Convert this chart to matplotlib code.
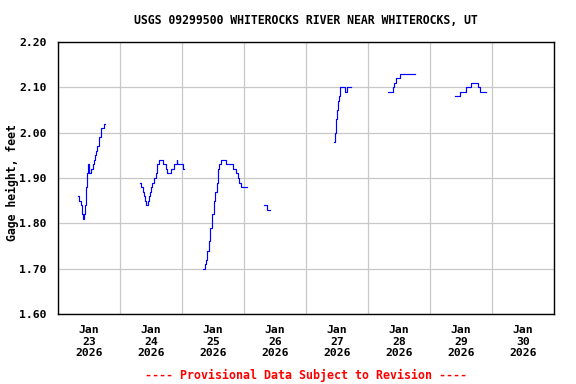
import numpy as np
import pandas as pd
import matplotlib
matplotlib.use("Agg")
import matplotlib.pyplot as plt
import matplotlib.dates as mdates
from matplotlib.ticker import FixedLocator, FormatStrFormatter

title = "USGS 09299500 WHITEROCKS RIVER NEAR WHITEROCKS, UT"
ylabel = "Gage height, feet"
footer = "---- Provisional Data Subject to Revision ----"

# step readings (time, gage height); NaN marks a gap in record
times = [
    # Jan 23
    "2026-01-23 07:45", "2026-01-23 08:15", "2026-01-23 08:45", "2026-01-23 09:15",
    "2026-01-23 09:30", "2026-01-23 10:15", "2026-01-23 10:30", "2026-01-23 10:45",
    "2026-01-23 11:00", "2026-01-23 11:15", "2026-01-23 11:30", "2026-01-23 11:45",
    "2026-01-23 12:00", "2026-01-23 12:45", "2026-01-23 13:30", "2026-01-23 14:00",
    "2026-01-23 14:30", "2026-01-23 14:45", "2026-01-23 15:15", "2026-01-23 15:45",
    "2026-01-23 16:00", "2026-01-23 16:30", "2026-01-23 16:45", "2026-01-23 17:45",
    "2026-01-23 18:00",
    # Jan 24
    "2026-01-24 07:45", "2026-01-24 08:15", "2026-01-24 08:45", "2026-01-24 09:15",
    "2026-01-24 09:45", "2026-01-24 10:15", "2026-01-24 11:00", "2026-01-24 11:15",
    "2026-01-24 11:45", "2026-01-24 12:00", "2026-01-24 12:30", "2026-01-24 13:15",
    "2026-01-24 14:00", "2026-01-24 14:15", "2026-01-24 14:30", "2026-01-24 15:00",
    "2026-01-24 16:45", "2026-01-24 17:45", "2026-01-24 18:15", "2026-01-24 19:45",
    "2026-01-24 21:00", "2026-01-24 22:00", "2026-01-24 22:15", "2026-01-25 00:15",
    "2026-01-25 00:30", "2026-01-25 00:45",
    # Jan 25
    "2026-01-25 08:00", "2026-01-25 08:45", "2026-01-25 09:15", "2026-01-25 09:45",
    "2026-01-25 10:30", "2026-01-25 11:00", "2026-01-25 11:45", "2026-01-25 12:15",
    "2026-01-25 12:45", "2026-01-25 13:30", "2026-01-25 14:00", "2026-01-25 14:30",
    "2026-01-25 15:00", "2026-01-25 17:00", "2026-01-25 19:45", "2026-01-25 21:00",
    "2026-01-25 21:30", "2026-01-25 22:15", "2026-01-25 23:00", "2026-01-26 00:45",
    "2026-01-26 01:00",
    # Jan 26
    "2026-01-26 07:45", "2026-01-26 08:45", "2026-01-26 10:00", "2026-01-26 10:15",
    # Jan 27
    "2026-01-27 10:45", "2026-01-27 11:15", "2026-01-27 11:45", "2026-01-27 12:00",
    "2026-01-27 12:30", "2026-01-27 12:45", "2026-01-27 13:00", "2026-01-27 15:00",
    "2026-01-27 15:45", "2026-01-27 17:00", "2026-01-27 17:15",
    # Jan 28
    "2026-01-28 07:45", "2026-01-28 09:30", "2026-01-28 10:00", "2026-01-28 10:45",
    "2026-01-28 11:30", "2026-01-28 12:15", "2026-01-28 17:45", "2026-01-28 18:00",
    # Jan 29
    "2026-01-29 09:30", "2026-01-29 11:30", "2026-01-29 13:45", "2026-01-29 16:00",
    "2026-01-29 18:30", "2026-01-29 19:15", "2026-01-29 21:45",
]
heights = [
    # Jan 23
    1.86, 1.85, 1.84, 1.82,
    1.81, 1.82, 1.84, 1.86,
    1.88, 1.91, 1.92, 1.93,
    1.91, 1.92, 1.93, 1.94,
    1.95, 1.96, 1.97, 1.98,
    1.99, 2.00, 2.01, 2.02,
    np.nan,
    # Jan 24
    1.89, 1.88, 1.87, 1.86,
    1.85, 1.84, 1.85, 1.86,
    1.87, 1.88, 1.89, 1.90,
    1.91, 1.92, 1.93, 1.94,
    1.93, 1.92, 1.91, 1.92,
    1.93, 1.94, 1.93, 1.92,
    1.92, np.nan,
    # Jan 25
    1.70, 1.71, 1.72, 1.74,
    1.76, 1.79, 1.82, 1.85,
    1.87, 1.89, 1.92, 1.93,
    1.94, 1.93, 1.92, 1.91,
    1.90, 1.89, 1.88, 1.88,
    np.nan,
    # Jan 26
    1.84, 1.83, 1.83, np.nan,
    # Jan 27
    1.98, 2.00, 2.03, 2.05,
    2.07, 2.08, 2.10, 2.09,
    2.10, 2.10, np.nan,
    # Jan 28
    2.09, 2.10, 2.11, 2.12,
    2.12, 2.13, 2.13, np.nan,
    # Jan 29
    2.08, 2.09, 2.10, 2.11,
    2.10, 2.09, 2.09,
]

day_labels = ["Jan\n23\n2026", "Jan\n24\n2026", "Jan\n25\n2026", "Jan\n26\n2026",
              "Jan\n27\n2026", "Jan\n28\n2026", "Jan\n29\n2026", "Jan\n30\n2026"]
y_ticks = [1.60, 1.70, 1.80, 1.90, 2.00, 2.10, 2.20]

font = "DejaVu Sans Mono"
t = pd.to_datetime(times)

fig = plt.figure(figsize=(5.76, 3.84), dpi=100)
ax = fig.add_axes([58 / 576, 1 - 314 / 384, (554 - 58) / 576, (314 - 42) / 384])

ax.plot(t, heights, color="#0000ff", lw=0.85, drawstyle="steps-post")

start = pd.Timestamp("2026-01-23 00:00")
end = pd.Timestamp("2026-01-31 00:00")
ax.set_xlim(start, end)
ax.set_ylim(1.60, 2.20)

noons = pd.date_range("2026-01-23 12:00", periods=8, freq="D")
mids = pd.date_range("2026-01-23 00:00", periods=9, freq="D")
ax.xaxis.set_major_locator(FixedLocator(mdates.date2num(noons)))
ax.xaxis.set_minor_locator(FixedLocator(mdates.date2num(mids)))
ax.set_xticklabels(day_labels)
ax.set_yticks(y_ticks)
ax.yaxis.set_major_formatter(FormatStrFormatter("%.2f"))

ax.grid(False)
ax.grid(True, which="minor", axis="x", color="#c8c8c8", lw=0.9)
ax.grid(True, which="major", axis="y", color="#c8c8c8", lw=0.9)
ax.set_axisbelow(True)

ax.tick_params(axis="x", which="both", length=0, pad=8)
ax.tick_params(axis="y", which="both", length=0, pad=8)
for lbl in ax.get_xticklabels() + ax.get_yticklabels():
    lbl.set_fontfamily(font)
    lbl.set_fontweight("bold")
    lbl.set_fontsize(8.2)
for lbl in ax.get_xticklabels():
    lbl.set_linespacing(1.2)

for s in ax.spines.values():
    s.set_color("black")
    s.set_linewidth(1.0)

fig.text(306 / 576, 1 - 20 / 384, title, ha="center", va="center",
         family=font, weight="bold", fontsize=8.3)
fig.text(12 / 576, 1 - 183 / 384, ylabel, ha="center", va="center", rotation=90,
         family=font, weight="bold", fontsize=8.3)
fig.text(306 / 576, 1 - 375 / 384, footer, ha="center", va="center",
         family=font, weight="bold", fontsize=8.4, color="#ff0000")

fig.savefig("out.png", dpi=100)
